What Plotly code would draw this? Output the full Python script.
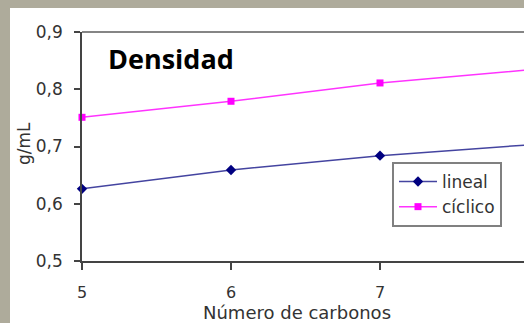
import plotly.graph_objects as go

carbonos = [5, 6, 7, 8]
lineal = [0.626, 0.659, 0.684, 0.703]
ciclico = [0.751, 0.779, 0.811, 0.834]
x_ticks = [5, 6, 7, 8]
y_ticks = [0.5, 0.6, 0.7, 0.8, 0.9]
y_ticklabels = ["0,5", "0,6", "0,7", "0,8", "0,9"]

W, H = 524, 323
L, R, T, B = 82, 0, 32, 62
pw, ph = W - L - R, H - T - B
px_per_unit = 149.0
xmax = 5 + pw / px_per_unit

def px_x(p):
    return (p - L) / pw

def px_y(p):
    return (H - B - p) / ph

FONT = "DejaVu Sans"
TXT = "#333333"
FRAME = "#aeab9b"

fig = go.Figure()
fig.add_trace(go.Scatter(
    x=carbonos, y=lineal, name="lineal", mode="lines+markers",
    line=dict(color="#4444a0", width=1.5),
    marker=dict(symbol="diamond", size=8, color="#000080"),
    legendgroup="a", cliponaxis=False,
))
fig.add_trace(go.Scatter(
    x=carbonos, y=ciclico, name="cíclico", mode="lines+markers",
    line=dict(color="#ff33ff", width=1.5),
    marker=dict(symbol="square", size=7, color="#ff00ff"),
    legendgroup="b", cliponaxis=False,
))

fig.update_layout(
    width=W, height=H,
    margin=dict(l=L, r=R, t=T, b=B, pad=0, autoexpand=False),
    paper_bgcolor="white", plot_bgcolor="white",
    font=dict(family=FONT, color=TXT, size=16),
    showlegend=True,
    legend=dict(
        x=px_x(392), y=px_y(162), xanchor="left", yanchor="top",
        bgcolor="white", bordercolor="#808080", borderwidth=2,
        font=dict(family=FONT, size=17, color=TXT),
        tracegroupgap=0, itemwidth=38,
    ),
    xaxis=dict(
        range=[5, xmax], tickvals=x_ticks, showgrid=False, zeroline=False,
        automargin=False,
        showline=True, linecolor="#444444", linewidth=1.5,
        ticks="outside", ticklen=7, tickcolor="#444444", tickwidth=1.5,
        tickfont=dict(size=16, color=TXT), ticklabelstandoff=9,
    ),
    yaxis=dict(
        range=[0.5, 0.9], tickvals=y_ticks, ticktext=y_ticklabels,
        showgrid=False, zeroline=False, automargin=False,
        showline=True, linecolor="#444444", linewidth=1.5,
        ticks="outside", ticklen=6, tickcolor="#444444", tickwidth=1.5,
        tickfont=dict(size=17, color=TXT), ticklabelstandoff=8,
    ),
)

# gray frame strips (outside white panel)
fig.add_shape(type="rect", xref="paper", yref="paper",
              x0=px_x(0), x1=px_x(10), y0=px_y(H), y1=px_y(0),
              fillcolor=FRAME, line=dict(width=0), layer="above")
fig.add_shape(type="rect", xref="paper", yref="paper",
              x0=px_x(0), x1=px_x(W), y0=px_y(8), y1=px_y(0),
              fillcolor=FRAME, line=dict(width=0), layer="above")
# top border of plot area
fig.add_shape(type="line", xref="paper", yref="paper",
              x0=0, x1=1, y0=1, y1=1,
              line=dict(color="#858585", width=2))

fig.add_annotation(
    text="<b>Densidad</b>", xref="paper", yref="paper",
    x=px_x(106), y=px_y(58), xanchor="left", yanchor="middle",
    showarrow=False, font=dict(family="Open Sans", size=27, color="black"),
)
fig.add_annotation(
    text="Número de carbonos", xref="paper", yref="paper",
    x=px_x(297), y=px_y(312), xanchor="center", yanchor="middle",
    showarrow=False, font=dict(family=FONT, size=18, color=TXT),
)
fig.add_annotation(
    text="g/mL", xref="paper", yref="paper", textangle=-90,
    x=px_x(24), y=px_y(144), xanchor="center", yanchor="middle",
    showarrow=False, font=dict(family=FONT, size=17, color=TXT),
)

fig.write_html(
    "out.html",
    config={"displayModeBar": False},
    post_script="document.body.style.margin='0';document.body.style.padding='0';"
                "document.body.style.overflow='hidden';",
)
